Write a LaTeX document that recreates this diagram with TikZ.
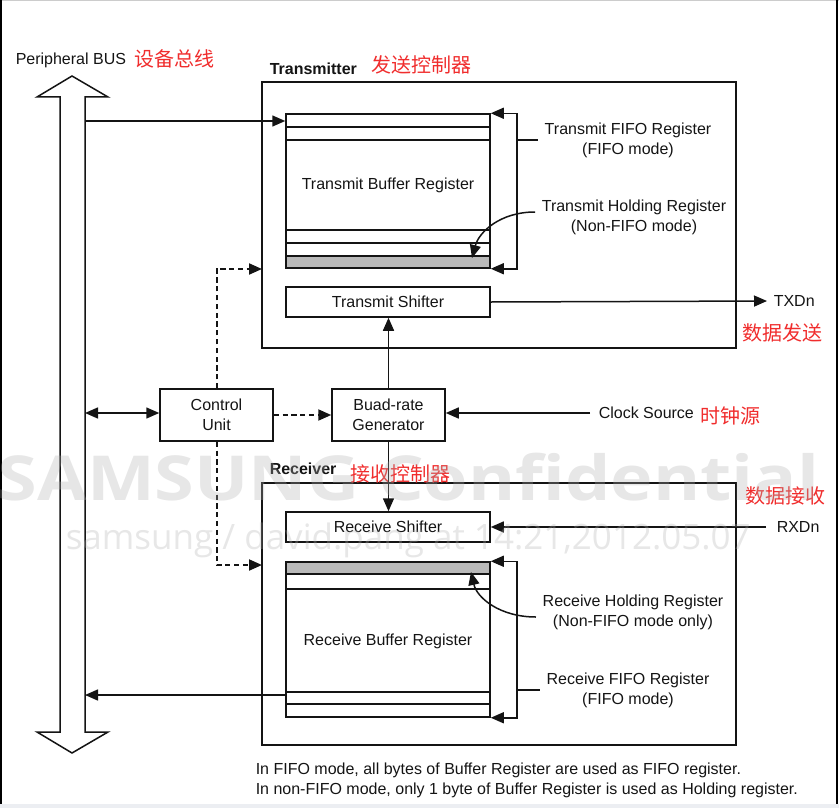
\documentclass[tikz,border=0pt]{standalone}
\usepackage{fontspec}
\setmainfont{Liberation Sans}
\newfontfamily\cjk{Noto Sans CJK SC}
\newfontfamily\wmfont{Open Sans}
\usetikzlibrary{arrows.meta,fit}
\definecolor{cnred}{RGB}{240,45,45}
\definecolor{ln}{RGB}{20,20,20}
\definecolor{wm}{RGB}{175,175,175}
\definecolor{regfill}{RGB}{185,185,185}
\definecolor{strip}{RGB}{236,238,242}
\begin{document}
\begin{tikzpicture}[x=0.5pt,y=-0.5pt,line width=0.75pt,
  box/.style={draw=ln,inner sep=0pt},
  lbl/.style={font=\fontsize{8}{10}\selectfont,align=center,inner sep=1.5pt,text=ln},
  ttl/.style={font=\bfseries\fontsize{8}{10}\selectfont,anchor=west,inner sep=0pt,text=ln},
  cn/.style={font=\cjk\fontsize{10}{12}\selectfont,text=cnred,anchor=west,inner sep=0pt},
  arr/.style={draw=ln,-{Triangle[length=6.5pt,width=5.5pt]}},
  dbl/.style={draw=ln,{Triangle[length=6.5pt,width=5.5pt]}-{Triangle[length=6.5pt,width=5.5pt]}},
  dsh/.style={arr,line width=1pt,dash pattern=on 2.6pt off 1.8pt},
  wmk/.style={text=wm,text opacity=0.3,anchor=base west,inner sep=0pt}]
\useasboundingbox (0,0) rectangle (839,808);
% page frame
\fill[strip] (0,804) rectangle (839,808);
\draw[line width=0.4pt,gray!40] (0,0.3) -- (839,0.3);
\draw[line width=1pt,black] (0.5,0) -- (0.5,804);
\draw[line width=1.2pt,black] (837,0) -- (837,804);
% peripheral bus
\draw[draw=ln,fill=white] (72,76) -- (108,97) -- (85,97) -- (85,732) -- (108,732) -- (72,753)
  -- (37,732) -- (60,732) -- (60,97) -- (37,97) -- cycle;
\coordinate (busTx) at (85,121);
\coordinate (busCtrl) at (85,413);
\coordinate (busRx) at (85,695);
\node[lbl,anchor=west,inner sep=0pt] (pbus) at (15,60) {Peripheral BUS};
\node[cn] (pbuscn) at (134,59) {设备总线};
% transmitter
\node[box,fit={(262,82)(736,348)}] (txbox) {};
\node[ttl] (txttl) at (269,69) {Transmitter};
\node[cn] (txcn) at (371,65) {发送控制器};
\node[box,fit={(286,114)(490,268)}] (txbuf) {};
\fill[regfill] (286,256) rectangle (490,268);
\draw[draw=ln] (286,114) rectangle (490,268);
\foreach \yy in {127,140,230,243,256} \draw[draw=ln] (286,\yy) -- (490,\yy);
\node[lbl] (txbuflbl) at (388,185) {Transmit Buffer Register};
\node[box,fit={(286,287)(490,317)}] (txsh) {};
\node[lbl] at (txsh.center) {Transmit Shifter};
\node[lbl] (txfifo) at (628,140) {Transmit FIFO Register\\(FIFO mode)};
\node[lbl] (txhold) at (634,217) {Transmit Holding Register\\(Non-FIFO mode)};
\coordinate (txbr) at (517,140);
\coordinate (txhp) at (472,258);
\node[lbl,anchor=west,inner sep=0pt] (txd) at (773,301) {TXDn};
\node[cn] (txdcn) at (742,333) {数据发送};
% control and baud
\node[box,fit={(160,389)(273,441)}] (ctrl) {};
\node[lbl] at (ctrl.center) {Control\\Unit};
\node[box,fit={(332,389)(445,441)}] (baud) {};
\node[lbl] at (baud.center) {Buad-rate\\Generator};
\node[lbl,anchor=west,inner sep=0pt] (clk) at (598,413) {Clock Source};
\node[cn] (clkcn) at (700,416) {时钟源};
\coordinate (txctl) at (262,269);
\coordinate (rxctl) at (262,565);
% receiver
\node[box,fit={(262,483)(736,745)}] (rxbox) {};
\node[ttl] (rxttl) at (269,469) {Receiver};
\node[cn] (rxcn) at (350,474) {接收控制器};
\node[cn] (rxdcn) at (745,496) {数据接收};
\node[box,fit={(286,512)(490,542)}] (rxsh) {};
\node[lbl] at (rxsh.center) {Receive Shifter};
\node[box,fit={(286,562)(490,717)}] (rxbuf) {};
\fill[regfill] (286,562) rectangle (490,574);
\draw[draw=ln] (286,562) rectangle (490,717);
\foreach \yy in {574,589,692,704} \draw[draw=ln] (286,\yy) -- (490,\yy);
\node[lbl] (rxbuflbl) at (388,641) {Receive Buffer Register};
\node[lbl] (rxhold) at (633,612) {Receive Holding Register\\(Non-FIFO mode only)};
\node[lbl] (rxfifo) at (628,690) {Receive FIFO Register\\(FIFO mode)};
\coordinate (rxbr) at (517,690);
\coordinate (rxhp) at (471,572);
\node[lbl,anchor=west,inner sep=0pt] (rxd) at (776,527) {RXDn};
% footer
\node[lbl,anchor=west,align=left,inner sep=0pt] (note) at (255,780)
  {In FIFO mode, all bytes of Buffer Register are used as FIFO register.\\In non-FIFO mode, only 1 byte of Buffer Register is used as Holding register.};
% connectors
\draw[arr] (busTx) -- (busTx -| txbuf.west);
\draw[draw=ln] ([xshift=-1.5pt]txfifo.west) -- (txbr);
\draw[arr] (txbr) |- (txbuf.north east);
\draw[arr] (txbr) |- (txbuf.south east);
\draw[arr] ([yshift=2.5pt,xshift=-1.5pt]txhold.west) .. controls (500,212) and (479,232) .. (txhp);
\draw[arr] (txsh.east) -- ([xshift=-3pt]txd.west);
\draw[dbl] (busCtrl) -- (busCtrl -| ctrl.west);
\draw[dsh] (ctrl.east) -- (baud.west);
\draw[dsh] (ctrl.north) |- (txctl);
\draw[dsh] (ctrl.south) |- (rxctl);
\draw[arr] (baud.north) -- (baud.north |- txsh.south);
\draw[arr] (baud.south) -- (baud.south |- rxsh.north);
\draw[arr] ([xshift=-4pt]clk.west) -- (clk.west -| baud.east);
\draw[arr] ([xshift=-5pt]rxd.west) -- (rxd.west -| rxsh.east);
\draw[draw=ln] ([xshift=-1.5pt]rxfifo.west) -- (rxbr);
\draw[arr] (rxbr) |- (rxbuf.north east);
\draw[arr] (rxbr) |- (rxbuf.south east);
\draw[arr] ([yshift=-2.5pt,xshift=-1.5pt]rxhold.west) .. controls (500,617) and (477,598) .. (rxhp);
\draw[arr] (busRx -| rxbuf.west) -- (busRx);
% watermark (overlay)
\node[wmk,font=\wmfont\bfseries\fontsize{31}{32}\selectfont,xscale=1.16] (wm1) at (-3,500) {SAMSUNG Confidential};
\node[wmk,font=\wmfont\fontsize{17.5}{20}\selectfont] (wm2) at (65,549) {samsung / david.pang at 14:21,2012.05.07};
\end{tikzpicture}
\end{document}
